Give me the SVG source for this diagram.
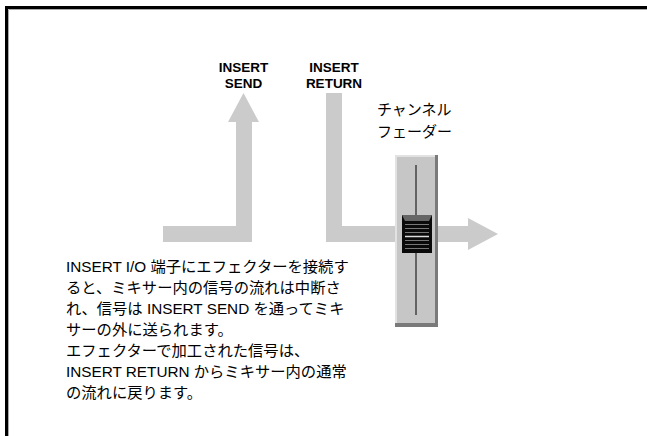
<svg xmlns="http://www.w3.org/2000/svg" width="647" height="436" viewBox="0 0 647 436">
<style>
.arrow{fill:#cbcbcb}
.lbl{font-family:"Liberation Sans","Noto Sans CJK JP",sans-serif;font-weight:bold;font-size:13.5px;fill:#000;text-anchor:middle}
.body{font-family:"Liberation Sans","Noto Sans CJK JP",sans-serif;font-size:15.3px;fill:#000}
.jp{font-family:"Noto Sans CJK JP",sans-serif;font-size:15px;fill:#000}
</style>
<rect width="647" height="436" fill="#fff"/>
<g id="frame">
<path d="M6.5,436 V7.5 H647" fill="none" stroke="#000" stroke-width="3"/>
<path d="M8.5,436 V9.5 H647" fill="none" stroke="#aaa" stroke-width="1"/>
</g>
<g id="connectors">
<path class="arrow" d="M163,226 H236 V122 H228 L243.5,93 L259,122 H252 V242 H163 Z"/>
<path class="arrow" d="M326,93 H342 V226 H468 V218 L498,234 L468,250 V242 H326 Z"/>
</g>
<g id="label-send">
<text class="lbl" x="243.5" y="72">INSERT<tspan x="243.5" y="88">SEND</tspan></text>
</g>
<g id="label-return">
<text class="lbl" x="334" y="72">INSERT<tspan x="334" y="88">RETURN</tspan></text>
</g>
<g id="label-fader">
<text class="jp" x="377" y="115">チャンネル</text>
<text class="jp" x="377" y="137">フェーダー</text>
</g>
<g id="fader">
<rect x="395" y="155" width="43" height="172" fill="#7a7a7a"/>
<rect x="395" y="155" width="40" height="168" fill="#e2e2e2"/>
<rect x="397" y="157" width="38" height="166" fill="#c6c6c6"/>
<line x1="416" y1="165" x2="416" y2="315" stroke="#000" stroke-width="1"/>
<rect x="402" y="215" width="30" height="38" fill="#0a0a0a"/>
<path d="M402,215 H432 L429,221 H405 Z" fill="#666"/>
<g stroke="#777" stroke-width="1">
<line x1="405" y1="224.5" x2="429" y2="224.5"/>
<line x1="405" y1="228.5" x2="429" y2="228.5"/>
<line x1="405" y1="232.5" x2="429" y2="232.5"/>
<line x1="405" y1="240.5" x2="429" y2="240.5"/>
<line x1="405" y1="244.5" x2="429" y2="244.5"/>
<line x1="405" y1="248.5" x2="429" y2="248.5"/>
</g>
<line x1="405" y1="236.5" x2="429" y2="236.5" stroke="#ddd" stroke-width="1.5"/>
</g>
<g id="description">
<text class="body" x="66" y="272">INSERT I/O 端子にエフェクターを接続す</text>
<text class="body" x="66" y="293">ると、ミキサー内の信号の流れは中断さ</text>
<text class="body" x="66" y="314">れ、信号は INSERT SEND を通ってミキ</text>
<text class="body" x="66" y="335">サーの外に送られます。</text>
<text class="body" x="66" y="356">エフェクターで加工された信号は、</text>
<text class="body" x="66" y="377">INSERT RETURN からミキサー内の通常</text>
<text class="body" x="66" y="398">の流れに戻ります。</text>
</g>
</svg>
